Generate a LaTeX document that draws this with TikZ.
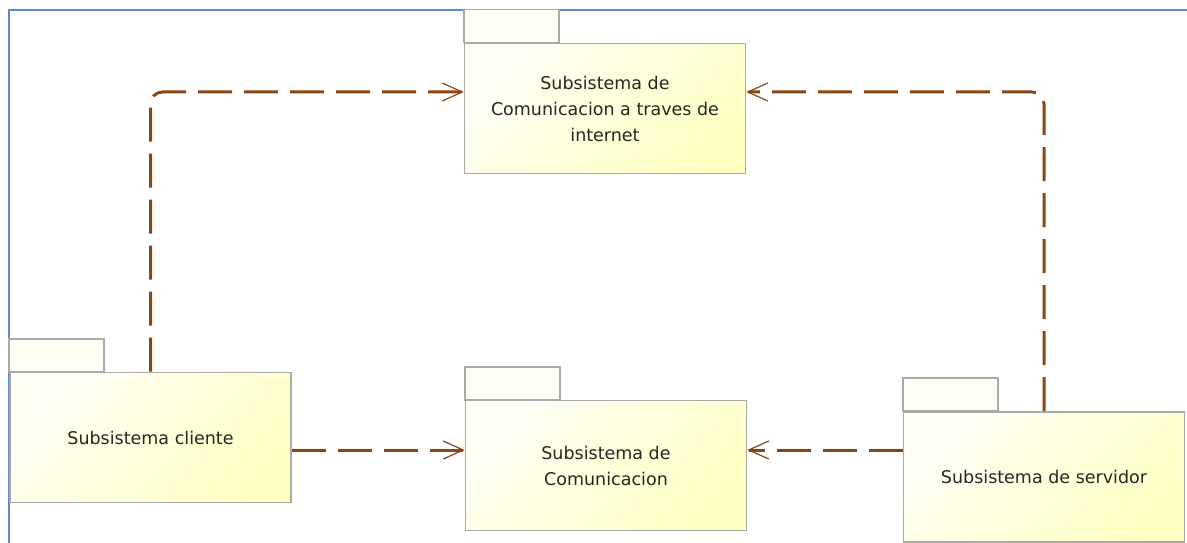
\documentclass[tikz,border=0pt]{standalone}
\usepackage{fontspec}
\setmainfont{DejaVu Sans}
\usetikzlibrary{arrows.meta}

\definecolor{depcolor}{RGB}{139,69,19}
\definecolor{pkgline}{RGB}{170,170,170}
\definecolor{pkglight}{RGB}{255,255,246}
\definecolor{pkgdark}{RGB}{255,255,196}
\definecolor{framecolor}{RGB}{92,138,204}

\tikzset{
  pkg/.style={draw=pkgline, line width=1.6pt, top color=pkglight, bottom color=pkgdark,
    shading angle=45, minimum width=281pt, minimum height=130pt, inner sep=0pt,
    align=center, font=\fontsize{17.5}{26}\selectfont, text=black!85},
  pkgtab/.style={draw=pkgline, line width=1.6pt, fill=pkglight},
  dep/.style={draw=depcolor, line width=3pt, dash pattern=on 34pt off 12pt,
    rounded corners=12pt, -{Straight Barb[length=20pt,width=18pt,line width=1.2pt]}},
}

\newcommand{\pkgtab}[1]{\draw[pkgtab] (#1.north west) rectangle ++(95,-33);}

\begin{document}
\begin{tikzpicture}[x=1pt,y=-1pt]
\useasboundingbox (0,0) rectangle (1187,543);

% frame
\draw[framecolor, line width=2pt] (9,543) |- (1187,10);

% packages
\node[pkg] (inet) at (605,108.5) {Subsistema de\\Comunicacion a traves de\\internet};
\node[pkg] (cliente) at (150.5,437.5) {Subsistema cliente};
\node[pkg] (comun) at (606,465.5) {Subsistema de\\Comunicacion};
\node[pkg] (servidor) at (1044,477) {Subsistema de servidor};

\pkgtab{inet}
\pkgtab{cliente}
\pkgtab{comun}
\pkgtab{servidor}

% dependencies
\coordinate (c1) at ([yshift=-12.5pt]cliente.east);
\coordinate (s1) at ([yshift=27pt]servidor.west);

\draw[dep] (cliente.north) |- ([yshift=16.5pt]inet.west);
\draw[dep] (servidor.north) |- ([yshift=16.5pt]inet.east);
\draw[dep] (c1) -- (c1 -| comun.west);
\draw[dep] (s1) -- (s1 -| comun.east);
\end{tikzpicture}
\end{document}
